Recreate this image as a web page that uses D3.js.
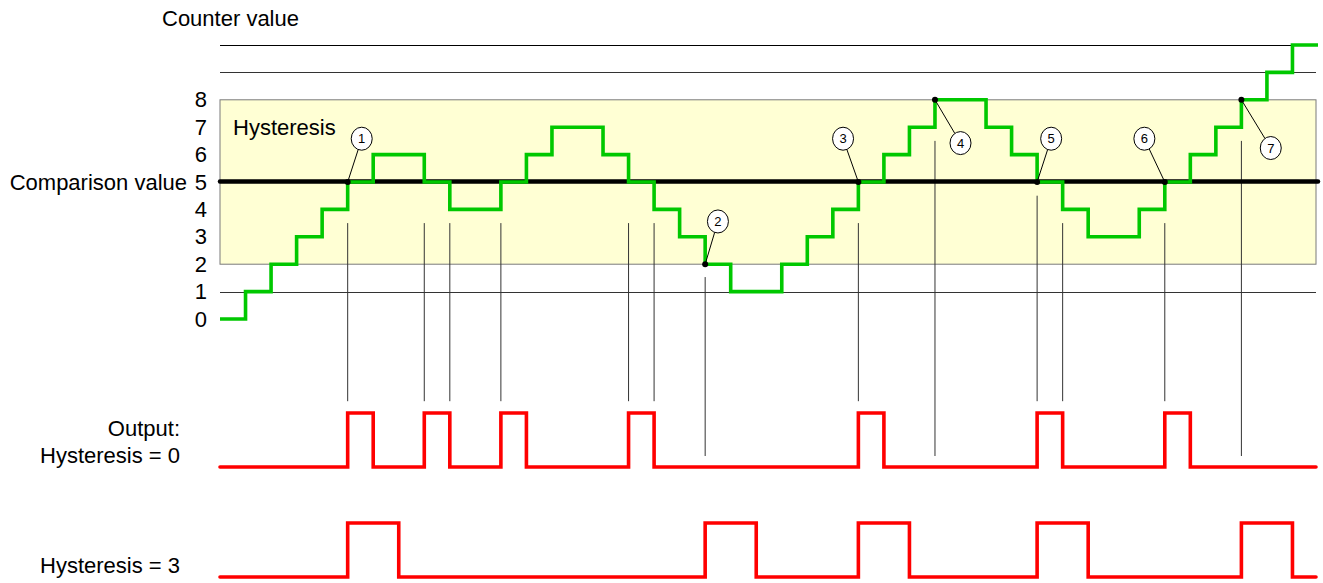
<!DOCTYPE html>
<html>
<head>
<meta charset="utf-8">
<script src="https://cdn.jsdelivr.net/npm/d3@7"></script>
<style>
	body { margin: 0; background: #fff; }
	text { font-family: "Liberation Sans", Arial, sans-serif; fill: #000; }
</style>
</head>
<body>
<script>

//-------------------------------- data ------------------------------------------------
// counter value for each step (one value per time step)
var counterValues = [0,1,2,3,4,5,6,6,5,4,4,5,6,7,7,6,5,4,3,2,1,1,2,3,4,5,6,7,8,8,7,6,5,4,3,3,4,5,6,7,8,9,10];
// output states for each step
var outputHyst0 = [0,0,0,0,0,1,0,0,1,0,0,1,0,0,0,0,1,0,0,0,0,0,0,0,0,1,0,0,0,0,0,0,1,0,0,0,0,1,0,0,0,0,0];
var outputHyst3 = [0,0,0,0,0,1,1,0,0,0,0,0,0,0,0,0,0,0,0,1,1,0,0,0,0,1,1,0,0,0,0,0,1,1,0,0,0,0,0,0,1,1,0];

var yTickValues = [0,1,2,3,4,5,6,7,8];
var comparisonValue = 5;
var hysteresisBand = [2, 8];
var extraLevels = [1, 9, 10];

// guide lines dropping from the counter plot to the outputs (step, top value, bottom value)
var guideSteps   = [5, 8, 9, 11, 16, 17, 19, 25, 28, 32, 33, 37, 40];
var guideTops    = [3.5, 3.5, 3.5, 3.5, 3.5, 3.5, 1.53, 3.5, 6.5, 4.5, 3.5, 3.5, 6.5];
var guideBottoms = [-3, -3, -3, -3, -3, -3, -5, -3, -5, -3, -3, -3, -5];

// numbered callouts : anchor (step, value) and bubble (step, value)
var calloutNumbers = [1, 2, 3, 4, 5, 6, 7];
var calloutSteps   = [5, 19, 25, 28, 32, 37, 40];
var calloutValues  = [5, 2, 5, 8, 5, 5, 8];
var bubbleSteps    = [5.55, 19.5, 24.4, 29.0, 32.55, 36.2, 41.15];
var bubbleValues   = [6.58, 3.56, 6.58, 6.42, 6.58, 6.58, 6.24];

//-------------------------------- svg --------------------------------------------------
var width = 1323, height = 583;

var svg = d3.select("body").append("svg")
	.attr("width", width)
	.attr("height", height);

var x = d3.scaleLinear()
	.domain([0, counterValues.length])
	.range([220, 1318]);

var y = d3.scaleLinear()
	.domain([0, 10])
	.range([319, 45]);

// one y scale per output row
var yOut0 = d3.scaleLinear().domain([0, 1]).range([467, 413]);
var yOut3 = d3.scaleLinear().domain([0, 1]).range([577, 523]);

//-------------------------------- background lines -------------------------------------
svg.append("rect")
	.attr("x", x(0))
	.attr("y", y(hysteresisBand[1]))
	.attr("width", 1316 - x(0))
	.attr("height", y(hysteresisBand[0]) - y(hysteresisBand[1]))
	.attr("fill", "#ffffd4")
	.attr("stroke", "#7a7a7a")
	.attr("stroke-width", 1);

svg.selectAll(".level")
	.data(extraLevels)
	.enter().append("line")
	.attr("class", "level")
	.attr("x1", x(0))
	.attr("x2", d => d == 10 ? 1318 : 1316)
	.attr("y1", d => Math.round(y(d)) + 0.5)
	.attr("y2", d => Math.round(y(d)) + 0.5)
	.attr("stroke", d => d == 10 ? "#000" : "#333")
	.attr("stroke-width", 1);

svg.append("text")
	.attr("x", 233)
	.attr("y", 135)
	.style("font-size", "22px")
	.text("Hysteresis");

// guide lines
svg.selectAll(".guide")
	.data(guideSteps)
	.enter().append("line")
	.attr("class", "guide")
	.attr("x1", d => x(d))
	.attr("x2", d => x(d))
	.attr("y1", (d, i) => y(guideTops[i]))
	.attr("y2", (d, i) => y(guideBottoms[i]))
	.attr("stroke", "#333")
	.attr("stroke-width", 1);

// comparison value line
svg.append("line")
	.attr("x1", x(0))
	.attr("x2", 1318)
	.attr("y1", y(comparisonValue) - 0.5)
	.attr("y2", y(comparisonValue) - 0.5)
	.attr("stroke", "#000")
	.attr("stroke-width", 4.5)
	.attr("stroke-linecap", "round");

//-------------------------------- step lines -------------------------------------------
function stepPoints(values) {
	var pts = values.map((v, i) => [i, v]);
	pts.push([values.length, values[values.length - 1]]);
	return pts;
};

var counterLine = d3.line()
	.x(d => x(d[0]))
	.y(d => y(d[1]))
	.curve(d3.curveStepAfter);

svg.append("path")
	.attr("d", counterLine(stepPoints(counterValues)))
	.attr("fill", "none")
	.attr("stroke", "#00c800")
	.attr("stroke-width", 3.6)
	.attr("stroke-linejoin", "miter");

function outputLine(yScale) {
	return d3.line()
		.x(d => Math.min(x(d[0]), 1316))
		.y(d => yScale(d[1]))
		.curve(d3.curveStepAfter);
};

svg.append("path")
	.attr("d", outputLine(yOut0)(stepPoints(outputHyst0)))
	.attr("fill", "none")
	.attr("stroke", "#ff0000")
	.attr("stroke-width", 3.6)
	.attr("stroke-linecap", "round");

svg.append("path")
	.attr("d", outputLine(yOut3)(stepPoints(outputHyst3)))
	.attr("fill", "none")
	.attr("stroke", "#ff0000")
	.attr("stroke-width", 3.6)
	.attr("stroke-linecap", "round");

//-------------------------------- axis & labels ----------------------------------------
var yAxis = d3.axisLeft(y)
	.tickValues(yTickValues)
	.tickSize(0)
	.tickPadding(13)
	.tickFormat(d3.format("d"));

var axisG = svg.append("g")
	.attr("transform", "translate(220,0)")
	.call(yAxis);
axisG.select(".domain").remove();
axisG.selectAll("text")
	.style("font-size", "22px")
	.style("font-family", "'Liberation Sans', Arial, sans-serif")
	.attr("fill", "#000");

svg.append("text")
	.attr("x", 162)
	.attr("y", 26)
	.style("font-size", "22px")
	.text("Counter value");

svg.append("text")
	.attr("x", 187)
	.attr("y", 189.5)
	.attr("text-anchor", "end")
	.style("font-size", "22px")
	.text("Comparison value");

svg.append("text")
	.attr("x", 180)
	.attr("y", 436)
	.attr("text-anchor", "end")
	.style("font-size", "22px")
	.text("Output:");

svg.append("text")
	.attr("x", 180)
	.attr("y", 463)
	.attr("text-anchor", "end")
	.style("font-size", "22px")
	.text("Hysteresis = 0");

svg.append("text")
	.attr("x", 180)
	.attr("y", 573)
	.attr("text-anchor", "end")
	.style("font-size", "22px")
	.text("Hysteresis = 3");

//-------------------------------- callouts ---------------------------------------------
var rx = 10.5, ry = 11.5;

calloutNumbers.forEach((n, i) => {
	var ax = x(calloutSteps[i]), ay = y(calloutValues[i]);
	var bx = x(bubbleSteps[i]), by = y(bubbleValues[i]);
	var dx = ax - bx, dy = ay - by;
	var len = Math.sqrt(dx * dx + dy * dy);
	// point on the ellipse edge towards the anchor
	var t = 1 / Math.sqrt((dx / len / rx) ** 2 + (dy / len / ry) ** 2);
	var g = svg.append("g");
	g.append("line")
		.attr("x1", bx + dx / len * t)
		.attr("y1", by + dy / len * t)
		.attr("x2", ax)
		.attr("y2", ay)
		.attr("stroke", "#000")
		.attr("stroke-width", 1);
	g.append("circle")
		.attr("cx", ax)
		.attr("cy", ay)
		.attr("r", 3)
		.attr("fill", "#000");
	g.append("ellipse")
		.attr("cx", bx)
		.attr("cy", by)
		.attr("rx", rx)
		.attr("ry", ry)
		.attr("fill", "#fff")
		.attr("stroke", "#000")
		.attr("stroke-width", 1);
	g.append("text")
		.attr("x", bx)
		.attr("y", by + 4.5)
		.attr("text-anchor", "middle")
		.style("font-size", "13px")
		.text(n);
});

</script>
</body>
</html>
